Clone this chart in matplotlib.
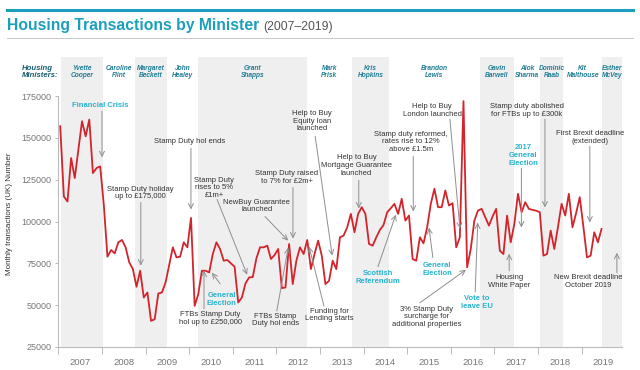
import matplotlib.pyplot as plt
from matplotlib.lines import Line2D

plt.rcParams['font.family'] = ['Liberation Sans', 'DejaVu Sans']

# monthly housing transactions (UK), Jan 2007 - Jun 2019
transactions = [
    157000, 115000, 112000, 138000, 126000, 143000, 160000, 151000, 161000, 129000, 132000, 133000,  # 2007
    110000, 79000, 83000, 81000, 87600, 89000, 84600, 75600, 71600, 61000, 70600, 54600,  # 2008
    57600, 40600, 41600, 57000, 57600, 63600, 74000, 84600, 78600, 79000, 87600, 84600,  # 2009
    102200, 49600, 56600, 70600, 70600, 69600, 80600, 87600, 83600, 76600, 77000, 75000,  # 2010
    73000, 51600, 54600, 63000, 66600, 66800, 78000, 84600, 84600, 85600, 77600, 80000,  # 2011
    83600, 60200, 60600, 86600, 62600, 76600, 84600, 80600, 89000, 71600, 80600, 88600,  # 2012
    79600, 62600, 64600, 76600, 71600, 90600, 91600, 96600, 104600, 93600, 104600, 108600,  # 2013
    104600, 86600, 85600, 90600, 95000, 98000, 105600, 108000, 110600, 104600, 113600, 100600,  # 2014
    103600, 77600, 76600, 90600, 87000, 96600, 110600, 119600, 108600, 108600, 118600, 109600,  # 2015
    111000, 84600, 90600, 172000, 72600, 83600, 100600, 106600, 107600, 102600, 97600, 103000,  # 2016
    107600, 82600, 80600, 103600, 87600, 98600, 116600, 105600, 111600, 107600, 107000, 106500,  # 2017
    105600, 79600, 80600, 94600, 83600, 96600, 110600, 103600, 116600, 96600, 105000, 114600,  # 2018
    97000, 78600, 79600, 93600, 87600, 95600,  # 2019
]
dates = [2007 + (m + 0.5) / 12 for m in range(len(transactions))]

years = list(range(2007, 2020))

ministers = ['Yvette\nCooper', 'Caroline\nFlint', 'Margaret\nBeckett', 'John\nHealey',
             'Grant\nShapps', 'Mark\nPrisk', 'Kris\nHopkins', 'Brandon\nLewis',
             'Gavin\nBarwell', 'Alok\nSharma', 'Dominic\nRaab', 'Kit\nMalthouse',
             'Esther\nMcVey']
minister_start = [2007.05, 2008.02, 2008.76, 2009.49, 2010.2, 2012.70, 2013.73,
                  2014.58, 2016.67, 2017.45, 2018.05, 2018.58, 2019.47]
minister_end = minister_start[1:] + [2019.93]

# (text, text position, arrow start, arrow tip, highlighted)
events = [
    ('Financial Crisis', (2007.95, 169600), (2008.0, 166000), (2008.0, 138400), True),
    ('Stamp Duty holiday\nup to £175,000', (2008.89, 117100), (2008.89, 111400), (2008.89, 73600), False),
    ('Stamp Duty hol ends', (2010.0, 148000), (2010.04, 143800), (2010.04, 107200), False),
    ('Stamp Duty\nrises to 5%\n£1m+', (2010.57, 120100), (2010.64, 113200), (2011.33, 68200), False),
    ('NewBuy Guarantee\nlaunched', (2011.55, 109300), (2011.74, 103000), (2012.27, 88600), False),
    ('Stamp Duty raised\nto 7% for £2m+', (2012.24, 126400), (2012.38, 120400), (2012.38, 89800), False),
    ('FTBs Stamp Duty\nhol up to £250,000', (2010.48, 42100), (2010.34, 47800), (2010.34, 70600), False),
    ('General\nElection', (2010.75, 53200), (2010.71, 62800), (2010.52, 69400), True),
    ('FTBs Stamp\nDuty hol ends', (2011.97, 41200), (2012.01, 46600), (2012.27, 84400), False),
    ('Help to Buy\nEquity loan\nlaunched', (2012.81, 160000), (2012.89, 151000), (2013.28, 79600), False),
    ('Funding for\nLending starts', (2013.22, 44200), (2013.09, 49600), (2012.75, 85000), False),
    ('Help to Buy\nMortgage Guarantee\nlaunched', (2013.84, 133600), (2013.89, 124600), (2013.89, 107800), False),
    ('Scottish\nReferendum', (2014.33, 66400), (2014.33, 73000), (2014.74, 104200), True),
    ('Stamp duty reformed,\nrates rise to 12%\nabove £1.5m', (2015.09, 147600), (2015.14, 139000), (2015.14, 106000), False),
    ('Help to Buy\nLondon launched', (2015.57, 166300), (2015.98, 161200), (2016.21, 95800), False),
    ('General\nElection', (2015.69, 71200), (2015.59, 78400), (2015.50, 96400), True),
    ('3% Stamp Duty\nsurcharge for\nadditional properties', (2015.45, 43000), (2015.29, 51400), (2016.35, 71200), False),
    ('Vote to\nleave EU', (2016.60, 51400), (2016.56, 58000), (2016.62, 99400), True),
    ('Housing\nWhite Paper', (2017.34, 64300), (2017.34, 70600), (2017.34, 80800), False),
    ('2017\nGeneral\nElection', (2017.66, 139600), (2017.62, 131800), (2017.62, 96400), True),
    ('Stamp duty abolished\nfor FTBs up to £300k', (2017.75, 166300), (2018.16, 161200), (2018.16, 108400), False),
    ('First Brexit deadline\n(extended)', (2019.19, 150100), (2019.19, 145000), (2019.19, 99400), False),
    ('New Brexit deadline\nOctober 2019', (2019.15, 64000), (2019.81, 69400), (2019.81, 81400), False),
]

teal = '#1c9ebf'
W, H = 640, 370
fig = plt.figure(figsize=(6.4, 3.7), dpi=100)
ax = fig.add_axes([58.4 / W, 23 / H, 563.7 / W, 290 / H])

for i, (name, s, e) in enumerate(zip(ministers, minister_start, minister_end)):
    if i % 2 == 0:
        ax.axvspan(s, e, color='#efefef', lw=0, zorder=0)
    ax.text((s + e) / 2, 189400, name, ha='center', va='center', fontsize=4.8,
            fontweight='bold', fontstyle='italic', color='#1f7d96', linespacing=1.1)

ax.plot(dates, transactions, color='#d3242c', lw=1.3, zorder=3)

for text, pos, start, tip, hl in events:
    ax.annotate('', xy=tip, xytext=start,
                arrowprops=dict(arrowstyle='->,head_length=0.45,head_width=0.22',
                                color='#8f8f8f', lw=0.7, mutation_scale=8,
                                shrinkA=0, shrinkB=0), zorder=4)
    ax.text(pos[0], pos[1], text, ha='center', va='center', fontsize=5.5,
            linespacing=1.15, color='#27b3cf' if hl else '#333333',
            fontweight='bold' if hl else 'normal', zorder=5)

ax.set_xlim(2007.0, 2019.93)
ax.set_ylim(25000, 198400)
ax.set_yticks(range(25000, 175001, 25000))
ax.set_xticks([y + 0.5 for y in years])
ax.set_xticklabels([str(y) for y in years])
ax.set_xticks(years, minor=True)
ax.tick_params(axis='x', which='major', length=0, pad=8, labelsize=6.8, labelcolor='#777777')
ax.tick_params(axis='x', which='minor', length=5, width=0.7, color='#bbbbbb')
ax.tick_params(axis='y', length=2.5, width=0.7, color='#bbbbbb', pad=2.5,
               labelsize=6.5, labelcolor='#777777')
for side in ['top', 'right']:
    ax.spines[side].set_visible(False)
ax.spines['left'].set_bounds(25000, 175000)
ax.spines['left'].set_color('#bbbbbb')
ax.spines['bottom'].set_color('#bbbbbb')
ax.set_facecolor('white')

fig.text(10 / W, 1 - 214 / H, 'Monthly transactions (UK) Number', rotation=90,
         ha='center', va='center', fontsize=5.8, color='#333333')
fig.text(22 / W, 1 - 72 / H, 'Housing\nMinisters:', ha='left', va='center',
         fontsize=5.6, fontweight='bold', fontstyle='italic', color='#175d72',
         linespacing=1.1)

fig.add_artist(Line2D([7 / W, 633 / W], [1 - 10 / H] * 2, color=teal, lw=2.2))
fig.add_artist(Line2D([7 / W, 633 / W], [1 - 38 / H] * 2, color='#c8c8c8', lw=0.7))
fig.text(7 / W, 1 - 30 / H, 'Housing Transactions by Minister', fontsize=11.3,
         fontweight='bold', color=teal, va='baseline')
fig.text(263 / W, 1 - 30 / H, '(2007–2019)', fontsize=8.8, color='#555555', va='baseline')

fig.savefig('out.png', dpi=100)
